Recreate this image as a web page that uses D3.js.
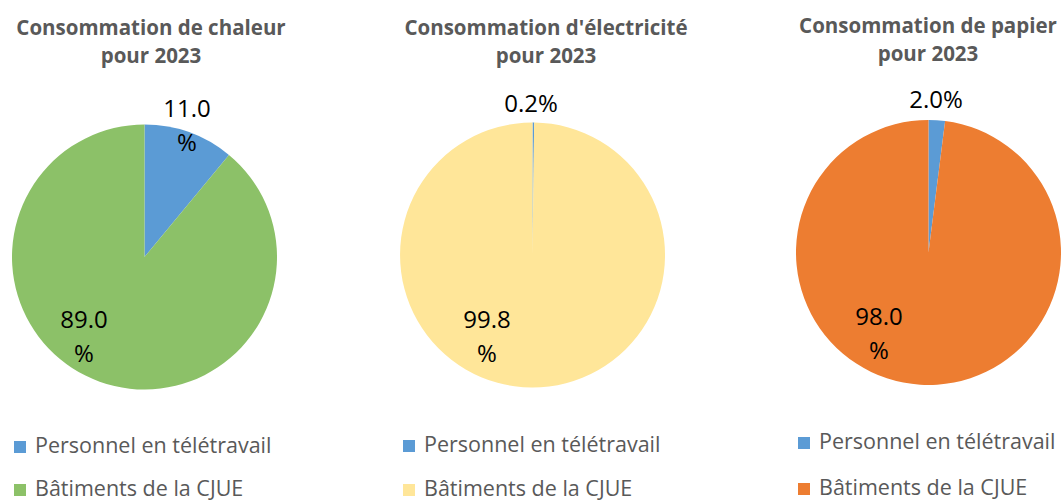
<!DOCTYPE html>
<html>
<head>
<meta charset="utf-8">
<script src="https://cdn.jsdelivr.net/npm/d3@7"></script>
<style>
  html, body { margin: 0; padding: 0; background: #fff; }
  svg { display: block; }
</style>
</head>
<body>
<svg id="chart" width="1063" height="503"></svg>
<script>
// ---- Data ----
const categories = ["Personnel en télétravail", "Bâtiments de la CJUE"];
const chartTitles = [
  ["Consommation de chaleur", "pour 2023"],
  ["Consommation d'électricité", "pour 2023"],
  ["Consommation de papier", "pour 2023"]
];
const chaleurValues = [11.0, 89.0];
const electriciteValues = [0.2, 99.8];
const papierValues = [2.0, 98.0];
const chaleurLabels = [["11.0", "%"], ["89.0", "%"]];
const electriciteLabels = [["0.2%"], ["99.8", "%"]];
const papierLabels = [["2.0%"], ["98.0", "%"]];

// ---- Layout / style ----
const svg = d3.select("#chart");
const font = "'Open Sans', 'Noto Sans', sans-serif";
const blue = "#5B9BD5";
const panels = [
  { values: chaleurValues, labels: chaleurLabels, title: chartTitles[0], colors: [blue, "#8CC168"],
    cx: 144.5, cy: 257, r: 132.5, titleX: 151, titleY: 35,
    labelPos: [[187, 117], [84, 328]], legendX: 14, legendY: 453, legendGap: 43 },
  { values: electriciteValues, labels: electriciteLabels, title: chartTitles[1], colors: [blue, "#FFE699"],
    cx: 532.5, cy: 255, r: 132.5, titleX: 546, titleY: 35,
    labelPos: [[531, 112], [487, 328]], legendX: 403, legendY: 452, legendGap: 44 },
  { values: papierValues, labels: papierLabels, title: chartTitles[2], colors: [blue, "#ED7D31"],
    cx: 928.5, cy: 252.5, r: 132.5, titleX: 928, titleY: 33,
    labelPos: [[936, 108], [879, 325]], legendX: 798, legendY: 449, legendGap: 46 }
];

const pie = d3.pie().sort(null).value(d => d);

panels.forEach(p => {
  const g = svg.append("g");
  const color = d3.scaleOrdinal().domain(categories).range(p.colors);
  const arc = d3.arc().innerRadius(0).outerRadius(p.r);

  // Title
  p.title.forEach((t, i) => {
    g.append("text")
      .attr("x", p.titleX).attr("y", p.titleY + i * 28)
      .attr("text-anchor", "middle")
      .attr("font-family", font).attr("font-weight", "bold")
      .attr("font-size", 20.5).attr("fill", "#595959")
      .text(t);
  });

  // Pie
  const arcs = pie(p.values).map((d, i) => Object.assign(d, { cat: categories[i] }));
  g.append("g").attr("transform", `translate(${p.cx},${p.cy})`)
    .selectAll("path").data(arcs).join("path")
    .attr("d", arc)
    .attr("fill", d => color(d.cat));

  // Data labels
  arcs.forEach((d, i) => {
    const [lx, ly] = p.labelPos[i];
    p.labels[i].forEach((line, j) => {
      g.append("text")
        .attr("x", lx).attr("y", ly + j * 34)
        .attr("text-anchor", "middle")
        .attr("font-family", font).attr("font-size", 24)
        .attr("fill", "#000")
        .text(line);
    });
  });

  // Legend
  categories.forEach((c, i) => {
    const y = p.legendY + i * p.legendGap;
    g.append("rect")
      .attr("x", p.legendX).attr("y", y - 12)
      .attr("width", 12).attr("height", 12)
      .attr("fill", color(c));
    g.append("text")
      .attr("x", p.legendX + 21).attr("y", y)
      .attr("font-family", font).attr("font-size", 21.5)
      .attr("fill", "#595959")
      .text(c);
  });
});
</script>
</body>
</html>
